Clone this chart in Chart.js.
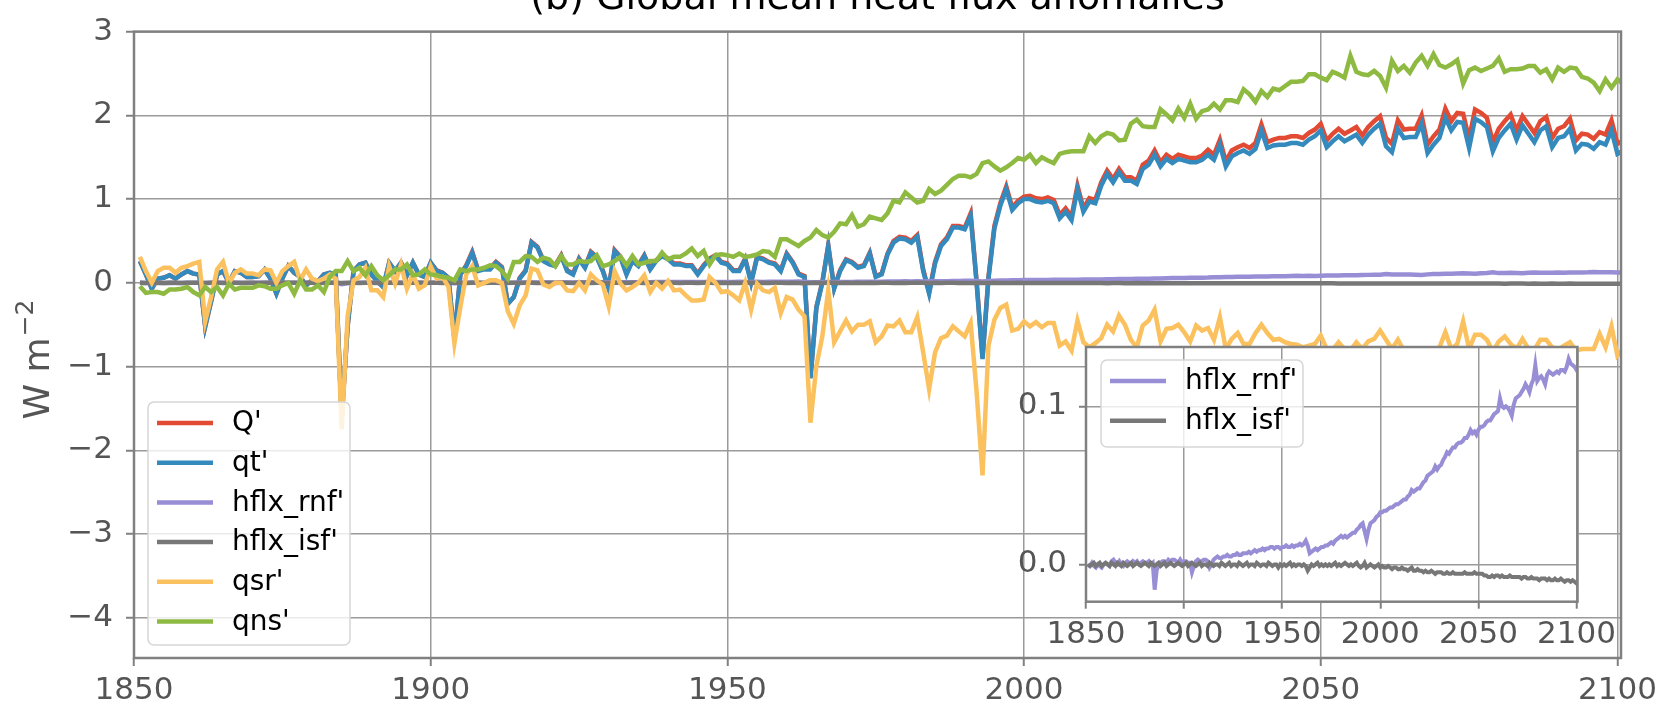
<!DOCTYPE html>
<html>
<head>
<meta charset="utf-8">
<script src="https://cdn.jsdelivr.net/npm/chart.js@4.4.1/dist/chart.umd.min.js"></script>
<style>
  body { margin: 0; background: #fff; }
  #wrap { position: relative; width: 1664px; height: 709px; }
  #wrap canvas { position: absolute; left: 0; top: 0; }
</style>
</head>
<body>
<div id="wrap">
  <canvas id="main" width="1664" height="709"></canvas>
  <canvas id="inset" width="1664" height="709"></canvas>
</div>
<script>
// annual values, first point plotted at 1851
const startYear = 1851;
const xTicks = [1850, 1900, 1950, 2000, 2050, 2100];
const yTicks = [-4, -3, -2, -1, 0, 1, 2, 3];
const insetYTicks = [0.0, 0.1];

// Q' (total)
const qTotal = [
  0.26, 0.10, -0.07, 0.05, 0.06, 0.09, 0.05, 0.10, 0.14, 0.11,
  0.10, -0.52, -0.22, 0.10, 0.14, 0.00, 0.14, 0.12, 0.07, 0.07,
  0.08, 0.16, 0.05, -0.13, 0.05, 0.20, 0.12, 0.07, -0.03, 0.03,
  0.02, 0.10, 0.12, 0.10, -1.62, -0.52, 0.14, 0.22, 0.24, 0.10,
  0.02, -0.05, 0.24, 0.14, 0.24, 0.09, 0.24, 0.10, 0.07, 0.24,
  0.15, 0.12, 0.06, -0.67, 0.10, 0.21, 0.37, 0.15, 0.17, 0.17,
  0.25, 0.19, -0.25, -0.17, 0.06, 0.15, 0.49, 0.43, 0.27, 0.23,
  0.21, 0.33, 0.15, 0.11, 0.29, 0.19, 0.37, 0.31, 0.15, -0.06,
  0.39, 0.31, 0.11, 0.27, 0.21, 0.33, 0.17, 0.27, 0.33, 0.29,
  0.23, 0.23, 0.21, 0.21, 0.11, 0.21, 0.29, 0.33, 0.25, 0.23,
  0.15, 0.15, 0.29, 0.01, 0.31, 0.29, 0.25, 0.23, 0.15, 0.35,
  0.25, 0.11, 0.08, -1.13, -0.29, 0.01, 0.45, -0.06, 0.15, 0.28,
  0.25, 0.19, 0.21, 0.36, 0.08, 0.11, 0.35, 0.50, 0.55, 0.54,
  0.50, 0.57, 0.16, -0.11, 0.25, 0.46, 0.54, 0.68, 0.68, 0.66,
  0.83, 0.02, -0.89, 0.07, 0.68, 0.95, 1.15, 0.90, 0.98, 1.03,
  1.04, 1.01, 1.00, 1.02, 0.99, 0.81, 0.89, 0.79, 1.16, 0.89,
  1.01, 0.99, 1.20, 1.34, 1.24, 1.36, 1.26, 1.26, 1.22, 1.41,
  1.46, 1.58, 1.44, 1.53, 1.48, 1.53, 1.51, 1.49, 1.49, 1.52,
  1.59, 1.53, 1.71, 1.45, 1.58, 1.62, 1.65, 1.61, 1.67, 1.89,
  1.68, 1.71, 1.73, 1.73, 1.75, 1.75, 1.73, 1.79, 1.83, 1.90,
  1.70, 1.78, 1.84, 1.78, 1.82, 1.86, 1.76, 1.86, 1.93, 1.99,
  1.73, 1.66, 1.94, 1.83, 1.84, 1.84, 2.00, 1.65, 1.75, 1.83,
  2.08, 1.93, 2.03, 2.02, 1.72, 2.07, 2.03, 1.97, 1.68, 1.84,
  1.93, 2.01, 1.82, 1.99, 1.89, 1.79, 1.93, 1.98, 1.73, 1.84,
  1.87, 1.96, 1.70, 1.78, 1.77, 1.72, 1.80, 1.77, 1.94, 1.66,
  1.70
];

// qt'
const qt = [
  0.26, 0.10, -0.07, 0.05, 0.06, 0.09, 0.05, 0.10, 0.14, 0.11,
  0.10, -0.52, -0.22, 0.10, 0.14, 0.00, 0.14, 0.12, 0.07, 0.07,
  0.08, 0.16, 0.05, -0.13, 0.05, 0.20, 0.12, 0.07, -0.03, 0.03,
  0.02, 0.10, 0.12, 0.10, -1.60, -0.52, 0.14, 0.22, 0.24, 0.10,
  0.02, -0.05, 0.24, 0.14, 0.24, 0.09, 0.24, 0.10, 0.07, 0.24,
  0.14, 0.12, 0.06, -0.66, 0.10, 0.20, 0.36, 0.14, 0.16, 0.16,
  0.24, 0.18, -0.25, -0.17, 0.05, 0.14, 0.48, 0.42, 0.26, 0.22,
  0.20, 0.32, 0.14, 0.10, 0.28, 0.18, 0.36, 0.30, 0.14, -0.07,
  0.38, 0.30, 0.10, 0.26, 0.20, 0.32, 0.16, 0.26, 0.32, 0.28,
  0.22, 0.22, 0.20, 0.20, 0.10, 0.20, 0.28, 0.32, 0.24, 0.22,
  0.14, 0.14, 0.28, 0.00, 0.30, 0.28, 0.24, 0.22, 0.14, 0.34,
  0.24, 0.10, 0.07, -1.14, -0.30, 0.00, 0.44, -0.07, 0.14, 0.27,
  0.24, 0.18, 0.20, 0.35, 0.07, 0.10, 0.34, 0.48, 0.53, 0.52,
  0.48, 0.55, 0.14, -0.13, 0.23, 0.44, 0.52, 0.66, 0.66, 0.64,
  0.80, 0.00, -0.91, 0.05, 0.65, 0.92, 1.12, 0.87, 0.95, 1.00,
  1.00, 0.97, 0.96, 0.98, 0.95, 0.77, 0.85, 0.75, 1.12, 0.85,
  0.97, 0.95, 1.16, 1.30, 1.20, 1.32, 1.22, 1.22, 1.18, 1.36,
  1.41, 1.53, 1.39, 1.48, 1.43, 1.48, 1.46, 1.44, 1.44, 1.47,
  1.53, 1.47, 1.65, 1.39, 1.51, 1.55, 1.58, 1.54, 1.60, 1.82,
  1.61, 1.64, 1.65, 1.65, 1.67, 1.67, 1.65, 1.71, 1.75, 1.82,
  1.62, 1.69, 1.75, 1.69, 1.73, 1.77, 1.67, 1.77, 1.84, 1.90,
  1.63, 1.56, 1.84, 1.73, 1.74, 1.74, 1.90, 1.55, 1.65, 1.73,
  1.97, 1.82, 1.92, 1.91, 1.61, 1.96, 1.92, 1.86, 1.57, 1.73,
  1.82, 1.90, 1.71, 1.88, 1.78, 1.68, 1.82, 1.87, 1.62, 1.73,
  1.75, 1.84, 1.58, 1.66, 1.65, 1.60, 1.68, 1.65, 1.82, 1.54,
  1.58
];

// hflx_rnf'
const hflxRnf = [
  0.000, -0.001, 0.001, -0.001, -0.002, 0.000, -0.001, -0.002, 0.000, 0.001,
  0.000, -0.001, 0.002, 0.003, 0.001, 0.000, 0.002, 0.000, -0.001, 0.001,
  0.002, 0.001, 0.000, 0.002, 0.001, 0.002, 0.000, 0.001, 0.002, 0.001,
  0.001, 0.002, 0.000, 0.001, -0.016, -0.004, 0.000, 0.001, 0.002, 0.002,
  0.001, 0.003, 0.002, 0.003, 0.003, 0.002, 0.001, 0.003, 0.001, 0.002,
  0.002, 0.001, 0.001, -0.005, -0.001, 0.002, 0.003, 0.002, 0.002, 0.003,
  0.003, 0.002, -0.002, 0.000, 0.003, 0.004, 0.005, 0.004, 0.004, 0.005,
  0.005, 0.006, 0.005, 0.005, 0.006, 0.006, 0.007, 0.006, 0.006, 0.007,
  0.007, 0.007, 0.008, 0.007, 0.008, 0.009, 0.008, 0.009, 0.009, 0.010,
  0.009, 0.010, 0.010, 0.011, 0.011, 0.010, 0.011, 0.011, 0.010, 0.011,
  0.011, 0.012, 0.011, 0.011, 0.012, 0.011, 0.012, 0.012, 0.013, 0.012,
  0.013, 0.015, 0.012, 0.007, 0.008, 0.009, 0.010, 0.009, 0.010, 0.011,
  0.011, 0.012, 0.012, 0.013, 0.014, 0.013, 0.015, 0.016, 0.017, 0.018,
  0.017, 0.018, 0.017, 0.018, 0.019, 0.020, 0.020, 0.022, 0.023, 0.025,
  0.026, 0.021, 0.016, 0.022, 0.026, 0.027, 0.028, 0.030, 0.031, 0.033,
  0.033, 0.034, 0.034, 0.035, 0.036, 0.036, 0.037, 0.038, 0.038, 0.039,
  0.040, 0.041, 0.041, 0.043, 0.044, 0.047, 0.046, 0.047, 0.048, 0.048,
  0.050, 0.052, 0.053, 0.056, 0.057, 0.058, 0.059, 0.062, 0.060, 0.062,
  0.063, 0.066, 0.068, 0.071, 0.070, 0.072, 0.074, 0.074, 0.076, 0.077,
  0.077, 0.078, 0.080, 0.080, 0.082, 0.085, 0.083, 0.084, 0.082, 0.085,
  0.087, 0.087, 0.088, 0.090, 0.091, 0.091, 0.093, 0.095, 0.096, 0.097,
  0.105, 0.100, 0.099, 0.100, 0.099, 0.097, 0.094, 0.101, 0.105, 0.106,
  0.107, 0.109, 0.111, 0.114, 0.112, 0.109, 0.114, 0.117, 0.126, 0.116,
  0.118, 0.119, 0.117, 0.114, 0.120, 0.122, 0.121, 0.120, 0.121, 0.122,
  0.121, 0.123, 0.123, 0.122, 0.125, 0.130, 0.127, 0.126, 0.125, 0.123,
  0.124
];

// hflx_isf'
const hflxIsf = [
  0.000, -0.001, 0.000, 0.001, -0.001, 0.000, 0.001, -0.001, 0.000, 0.001,
  0.000, -0.001, 0.001, 0.000, -0.001, 0.001, 0.000, -0.001, 0.001, 0.000,
  -0.001, 0.000, 0.001, -0.001, 0.000, 0.001, 0.000, -0.001, 0.000, 0.001,
  0.000, -0.001, 0.001, 0.000, -0.001, 0.000, 0.001, -0.001, 0.000, 0.001,
  -0.001, 0.000, 0.001, 0.000, -0.001, 0.000, 0.001, 0.000, -0.001, 0.000,
  0.001, -0.001, 0.000, 0.001, 0.000, -0.001, 0.000, 0.001, -0.001, 0.000,
  0.000, -0.001, 0.001, 0.000, -0.001, 0.000, 0.000, -0.001, 0.001, 0.000,
  -0.001, 0.000, 0.001, -0.001, 0.000, 0.000, -0.001, 0.001, 0.000, -0.001,
  0.000, 0.001, -0.001, 0.000, 0.000, -0.001, 0.001, 0.000, -0.001, 0.000,
  0.000, -0.001, 0.001, 0.000, -0.001, 0.000, 0.000, -0.002, 0.000, -0.001,
  0.000, -0.001, 0.000, 0.001, -0.001, 0.000, -0.001, 0.000, 0.000, -0.001,
  0.000, -0.001, -0.004, -0.002, 0.000, -0.001, 0.000, 0.001, -0.001, 0.000,
  -0.001, 0.000, -0.001, 0.000, -0.001, 0.000, 0.001, -0.001, 0.000, -0.001,
  0.000, 0.001, 0.000, -0.001, 0.000, -0.001, 0.000, 0.001, -0.001, -0.002,
  -0.001, 0.001, -0.002, -0.001, 0.000, -0.001, -0.002, -0.001, 0.000, -0.002,
  -0.001, -0.002, -0.002, -0.001, -0.002, -0.003, -0.002, -0.002, -0.003, -0.003,
  -0.002, -0.003, -0.003, -0.004, -0.003, -0.002, -0.004, -0.004, -0.003, -0.004,
  -0.004, -0.005, -0.004, -0.005, -0.005, -0.004, -0.005, -0.006, -0.005, -0.005,
  -0.005, -0.006, -0.006, -0.005, -0.006, -0.006, -0.005, -0.006, -0.006, -0.006,
  -0.006, -0.006, -0.005, -0.006, -0.006, -0.006, -0.006, -0.005, -0.006, -0.006,
  -0.006, -0.006, -0.007, -0.007, -0.008, -0.008, -0.007, -0.008, -0.007, -0.007,
  -0.008, -0.007, -0.008, -0.008, -0.008, -0.007, -0.008, -0.008, -0.008, -0.008,
  -0.008, -0.009, -0.008, -0.008, -0.009, -0.009, -0.008, -0.009, -0.009, -0.009,
  -0.010, -0.009, -0.009, -0.009, -0.010, -0.009, -0.010, -0.010, -0.009, -0.010,
  -0.010, -0.009, -0.010, -0.011, -0.010, -0.010, -0.011, -0.010, -0.011, -0.012,
  -0.011
];

// qsr'
const qsr = [
  0.31, 0.14, 0.00, 0.14, 0.18, 0.18, 0.12, 0.18, 0.20, 0.23,
  0.25, -0.46, -0.17, 0.16, 0.25, 0.00, 0.12, 0.16, 0.11, 0.11,
  0.09, 0.16, 0.15, 0.00, 0.14, 0.20, 0.25, 0.03, 0.16, 0.05,
  0.02, 0.05, 0.10, 0.05, -1.75, -0.40, 0.03, 0.07, 0.18, -0.09,
  -0.09, -0.17, 0.20, -0.01, 0.22, -0.07, 0.10, -0.07, -0.03, 0.20,
  0.05, 0.07, -0.05, -0.72, -0.29, 0.10, 0.20, -0.03, 0.00, 0.03,
  0.03, 0.00, -0.34, -0.49, -0.27, -0.15, 0.17, 0.15, -0.02, -0.05,
  0.00, 0.00, -0.09, -0.10, 0.00, -0.09, 0.10, 0.03, -0.02, -0.28,
  0.14, -0.01, -0.09, -0.05, 0.00, 0.09, -0.11, 0.00, -0.07, 0.02,
  -0.09, -0.08, -0.15, -0.21, -0.21, -0.20, 0.07, 0.00, -0.11, -0.10,
  -0.15, -0.21, 0.00, -0.32, -0.01, -0.09, -0.11, -0.06, -0.36, -0.17,
  -0.20, -0.32, -0.40, -1.67, -0.99, -0.64, -0.09, -0.71, -0.58, -0.45,
  -0.58, -0.50, -0.50, -0.46, -0.71, -0.64, -0.51, -0.52, -0.45, -0.59,
  -0.59, -0.41, -0.83, -1.27, -0.83, -0.66, -0.63, -0.52, -0.58, -0.64,
  -0.48, -1.30, -2.30, -0.75, -0.44, -0.30, -0.26, -0.57, -0.55, -0.46,
  -0.52, -0.47, -0.53, -0.48, -0.48, -0.75, -0.70, -0.81, -0.45, -0.71,
  -0.77, -0.72, -0.66, -0.50, -0.58, -0.39, -0.50, -0.68, -0.77, -0.51,
  -0.45, -0.32, -0.70, -0.55, -0.54, -0.50, -0.59, -0.70, -0.51, -0.57,
  -0.54, -0.68, -0.41, -0.79, -0.67, -0.60, -0.73, -0.73, -0.60, -0.50,
  -0.60, -0.68, -0.67, -0.71, -0.73, -0.74, -0.77, -0.75, -0.73, -0.63,
  -0.79, -0.80, -0.71, -0.79, -0.81, -0.71, -0.79, -0.70, -0.67, -0.57,
  -0.68, -0.79, -0.68, -0.81, -0.80, -0.85, -0.82, -0.84, -0.86, -0.77,
  -0.59, -0.79, -0.73, -0.46, -0.79, -0.62, -0.62, -0.68, -0.82, -0.70,
  -0.64, -0.73, -0.79, -0.67, -0.79, -0.80, -0.68, -0.68, -0.77, -0.80,
  -0.75, -0.71, -0.81, -0.79, -0.79, -0.79, -0.61, -0.77, -0.52, -0.87,
  -0.79
];

// qns'
const qns = [
  -0.04, -0.12, -0.11, -0.11, -0.13, -0.08, -0.08, -0.07, -0.05, -0.11,
  -0.15, -0.05, -0.11, -0.05, -0.15, -0.01, -0.08, -0.06, -0.06, -0.06,
  -0.03, -0.04, -0.07, -0.07, -0.03, 0.00, -0.13, 0.03, -0.08, -0.08,
  -0.03, -0.11, 0.07, 0.14, 0.14, 0.26, 0.14, 0.18, 0.09, 0.20,
  0.09, 0.03, 0.09, 0.16, 0.16, 0.22, 0.09, 0.10, 0.16, 0.10,
  0.09, 0.07, 0.06, 0.03, 0.16, 0.14, 0.16, 0.16, 0.18, 0.21,
  0.20, 0.14, 0.05, 0.25, 0.25, 0.32, 0.31, 0.25, 0.30, 0.28,
  0.20, 0.32, 0.22, 0.22, 0.26, 0.25, 0.26, 0.33, 0.20, 0.22,
  0.26, 0.31, 0.21, 0.32, 0.22, 0.24, 0.26, 0.26, 0.36, 0.28,
  0.31, 0.31, 0.35, 0.41, 0.32, 0.38, 0.22, 0.33, 0.34, 0.33,
  0.31, 0.35, 0.31, 0.32, 0.34, 0.38, 0.37, 0.31, 0.52, 0.52,
  0.48, 0.44, 0.50, 0.54, 0.63, 0.57, 0.54, 0.61, 0.71, 0.70,
  0.81, 0.67, 0.70, 0.79, 0.77, 0.75, 0.83, 0.98, 0.96, 1.08,
  1.02, 0.96, 0.98, 1.12, 1.06, 1.10, 1.17, 1.24, 1.28, 1.28,
  1.26, 1.30, 1.43, 1.45, 1.39, 1.34, 1.38, 1.43, 1.49, 1.47,
  1.53, 1.43, 1.50, 1.46, 1.43, 1.54, 1.56, 1.57, 1.57, 1.57,
  1.75, 1.67, 1.75, 1.79, 1.77, 1.70, 1.71, 1.90, 1.95, 1.87,
  1.86, 1.86, 2.07, 2.01, 1.94, 2.08, 1.97, 2.14, 1.96, 2.05,
  2.07, 2.14, 2.07, 2.18, 2.18, 2.16, 2.31, 2.25, 2.16, 2.29,
  2.22, 2.32, 2.30, 2.35, 2.40, 2.40, 2.41, 2.49, 2.49, 2.45,
  2.42, 2.52, 2.49, 2.45, 2.71, 2.52, 2.49, 2.48, 2.53, 2.47,
  2.33, 2.65, 2.53, 2.59, 2.51, 2.63, 2.71, 2.59, 2.73, 2.60,
  2.57, 2.61, 2.66, 2.38, 2.54, 2.57, 2.53, 2.56, 2.59, 2.68,
  2.52, 2.55, 2.55, 2.56, 2.59, 2.59, 2.51, 2.55, 2.43, 2.57,
  2.52, 2.57, 2.56, 2.46, 2.44, 2.39, 2.29, 2.43, 2.33, 2.43,
  2.37
];

const years = qt.map((_, i) => startYear + i);

const colors = {
  total: "#E24A33",
  qt: "#348ABD",
  rnf: "#988ED5",
  isf: "#777777",
  qsr: "#FBC15E",
  qns: "#8EBA42"
};

Chart.defaults.font.family = "'DejaVu Sans', sans-serif";

function series(label, values, color, order, width) {
  return {
    label: label,
    data: values.map((v, i) => ({ x: years[i], y: v })),
    borderColor: color,
    backgroundColor: color,
    borderWidth: width,
    pointRadius: 0,
    tension: 0,
    fill: false,
    clip: 0,
    order: order
  };
}

function minusFmt(v) {
  return v < 0 ? "\u2212" + Math.abs(v) : String(v);
}

// legend box drawn by hand so it can sit anywhere inside the axes
function drawLegend(ctx, box, entries, firstRow, gap) {
  ctx.save();
  ctx.beginPath();
  ctx.roundRect(box.x, box.y, box.w, box.h, 6);
  ctx.fillStyle = "rgba(255,255,255,0.8)";
  ctx.fill();
  ctx.strokeStyle = "#d6d6d6";
  ctx.lineWidth = 1.5;
  ctx.stroke();
  ctx.font = "28px 'DejaVu Sans'";
  ctx.textBaseline = "middle";
  entries.forEach((e, i) => {
    const y = firstRow + i * gap;
    ctx.strokeStyle = e.color;
    ctx.lineWidth = 4.5;
    ctx.beginPath();
    ctx.moveTo(box.x + 9, y);
    ctx.lineTo(box.x + 65, y);
    ctx.stroke();
    ctx.fillStyle = "#000";
    ctx.fillText(e.label, box.x + 84, y + 1);
  });
  ctx.restore();
}

function drawFrame(chart) {
  const a = chart.chartArea;
  const ctx = chart.ctx;
  ctx.save();
  ctx.strokeStyle = "#808080";
  ctx.lineWidth = 2.5;
  ctx.strokeRect(a.left, a.top, a.right - a.left, a.bottom - a.top);
  ctx.restore();
}

const gridStyle = {
  color: "#9a9a9a",
  lineWidth: 1.5,
  tickColor: "#808080",
  tickWidth: 2,
  tickLength: 8
};

const mainDecor = {
  id: "mainDecor",
  beforeDraw(chart) {
    const ctx = chart.ctx;
    ctx.save();
    ctx.fillStyle = "#fff";
    ctx.fillRect(0, 0, chart.width, chart.height);
    ctx.restore();
  },
  afterDatasetsDraw(chart) {
    drawFrame(chart);
  },
  afterDraw(chart) {
    const ctx = chart.ctx;
    const a = chart.chartArea;
    // title, partly above the top of the picture
    ctx.save();
    ctx.font = "38px 'DejaVu Sans'";
    ctx.fillStyle = "#000";
    ctx.textAlign = "center";
    ctx.textBaseline = "alphabetic";
    ctx.fillText("(b) Global mean heat flux anomalies", (a.left + a.right) / 2, 9);
    ctx.restore();

    // y label with superscript
    ctx.save();
    ctx.translate(36, 360);
    ctx.rotate(-Math.PI / 2);
    ctx.fillStyle = "#555";
    ctx.textBaseline = "alphabetic";
    ctx.font = "36px 'DejaVu Sans'";
    const base = "W m";
    const wBase = ctx.measureText(base).width;
    ctx.font = "25px 'DejaVu Sans'";
    const sup = "\u22122";
    const wSup = ctx.measureText(sup).width;
    const x0 = -(wBase + wSup) / 2;
    ctx.font = "36px 'DejaVu Sans'";
    ctx.fillText(base, x0, 13);
    ctx.font = "25px 'DejaVu Sans'";
    ctx.fillText(sup, x0 + wBase + 1, -3);
    ctx.restore();

    drawLegend(ctx, { x: 148, y: 402, w: 202, h: 243 }, [
      { label: "Q'", color: colors.total },
      { label: "qt'", color: colors.qt },
      { label: "hflx_rnf'", color: colors.rnf },
      { label: "hflx_isf'", color: colors.isf },
      { label: "qsr'", color: colors.qsr },
      { label: "qns'", color: colors.qns }
    ], 423, 39.7);
  }
};

new Chart(document.getElementById("main"), {
  type: "line",
  data: {
    datasets: [
      series("Q'", qTotal, colors.total, 6, 4.5),
      series("qt'", qt, colors.qt, 5, 4.5),
      series("hflx_rnf'", hflxRnf, colors.rnf, 4, 4.5),
      series("hflx_isf'", hflxIsf, colors.isf, 3, 4.5),
      series("qsr'", qsr, colors.qsr, 2, 4.5),
      series("qns'", qns, colors.qns, 1, 4.5)
    ]
  },
  options: {
    responsive: false,
    animation: false,
    layout: { padding: { top: 20, right: 43, left: 0, bottom: 0 } },
    plugins: { legend: { display: false }, tooltip: { enabled: false } },
    scales: {
      x: {
        type: "linear",
        min: 1850,
        max: 2100.6,
        afterBuildTicks: (s) => { s.ticks = xTicks.map((v) => ({ value: v })); },
        afterFit: (s) => { s.height = 51; },
        grid: gridStyle,
        border: { display: false },
        ticks: {
          color: "#555",
          font: { size: 31 },
          padding: 6,
          maxRotation: 0,
          autoSkip: false,
          callback: (v) => String(v)
        }
      },
      y: {
        min: -4.48,
        max: 3,
        afterBuildTicks: (s) => { s.ticks = yTicks.map((v) => ({ value: v })); },
        afterFit: (s) => { s.width = 134; },
        grid: gridStyle,
        border: { display: false },
        ticks: {
          color: "#555",
          font: { size: 31 },
          padding: 13,
          autoSkip: false,
          callback: (v) => minusFmt(v)
        }
      }
    }
  },
  plugins: [mainDecor]
});

// inset with the two small heat fluxes
const insetDecor = {
  id: "insetDecor",
  beforeDraw(chart) {
    const a = chart.chartArea;
    const ctx = chart.ctx;
    ctx.save();
    ctx.fillStyle = "#fff";
    ctx.fillRect(a.left - 1, a.top - 1, a.right - a.left + 2, a.bottom - a.top + 2);
    ctx.restore();
  },
  afterDatasetsDraw(chart) {
    drawFrame(chart);
  },
  afterDraw(chart) {
    drawLegend(chart.ctx, { x: 1101, y: 360, w: 202, h: 87 }, [
      { label: "hflx_rnf'", color: colors.rnf },
      { label: "hflx_isf'", color: colors.isf }
    ], 381, 39.7);
  }
};

new Chart(document.getElementById("inset"), {
  type: "line",
  data: {
    datasets: [
      series("hflx_rnf'", hflxRnf, colors.rnf, 2, 4),
      series("hflx_isf'", hflxIsf, colors.isf, 1, 4)
    ]
  },
  options: {
    responsive: false,
    animation: false,
    layout: { padding: { top: 347, right: 86.5, left: 996, bottom: 57.3 } },
    plugins: { legend: { display: false }, tooltip: { enabled: false } },
    scales: {
      x: {
        type: "linear",
        min: 1850,
        max: 2100.5,
        afterBuildTicks: (s) => { s.ticks = xTicks.map((v) => ({ value: v })); },
        afterFit: (s) => { s.height = 50; },
        grid: Object.assign({}, gridStyle, { tickLength: 7 }),
        border: { display: false },
        ticks: {
          color: "#555",
          font: { size: 31 },
          padding: 8,
          maxRotation: 0,
          autoSkip: false,
          callback: (v) => String(v)
        }
      },
      y: {
        min: -0.0236,
        max: 0.1375,
        afterBuildTicks: (s) => { s.ticks = insetYTicks.map((v) => ({ value: v })); },
        afterFit: (s) => { s.width = 90; },
        grid: Object.assign({}, gridStyle, { tickLength: 7 }),
        border: { display: false },
        ticks: {
          color: "#555",
          font: { size: 31 },
          padding: 12,
          autoSkip: false,
          callback: (v) => v.toFixed(1)
        }
      }
    }
  },
  plugins: [insetDecor]
});
</script>
</body>
</html>
